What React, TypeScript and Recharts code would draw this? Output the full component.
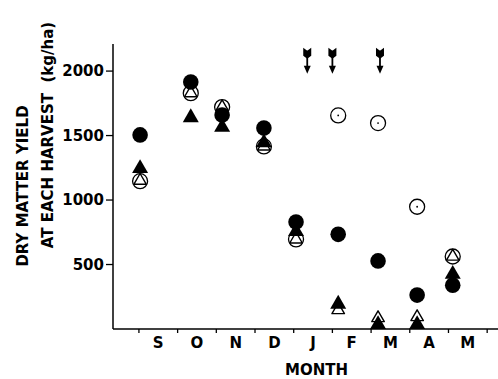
import { ScatterChart, Scatter, XAxis, YAxis, Label } from 'recharts'

// harvest positions along the month axis (0 = start of September)
const HARVEST_X = [0.03, 1.34, 2.15, 3.23, 4.06, 5.15, 6.18, 7.19, 8.11]
const FILLED_CIRCLE = [1505, 1915, 1660, 1558, 829, 734, 528, 263, 340]
const FILLED_TRIANGLE = [1245, 1640, 1565, 1445, 757, 193, 35, 35, 425]
const OPEN_CIRCLE = [1146, 1829, 1721, 1416, 695, 1656, 1597, 948, 562]
const OPEN_TRIANGLE = [1150, 1829, 1721, 1416, 695, 147, 85, 93, 562]

const MONTHS = ['S', 'O', 'N', 'D', 'J', 'F', 'M', 'A', 'M']
const MONTH_TICKS = [0, 0.5, 1, 1.5, 2, 2.5, 3, 3.5, 4, 4.5, 5, 5.5, 6, 6.5, 7, 7.5, 8, 8.5, 9]
const Y_TICKS = [500, 1000, 1500, 2000]

// arrows above the plot (marking events)
const ARROW_X = [4.35, 5.0, 6.23]
const ARROW_Y = 2080

const FONT = '"DejaVu Sans", sans-serif'

const toPoints = (ys: number[]) => ys.map((y, i) => ({ x: HARVEST_X[i], y }))
const arrows = ARROW_X.map(x => ({ x, y: ARROW_Y }))

const FilledCircle = ({ cx, cy }: any) => <circle cx={cx} cy={cy} r={7.8} fill="#000" />

const OpenCircle = ({ cx, cy }: any) => (
    <g>
        <circle cx={cx} cy={cy} r={7.5} fill="#fff" stroke="#000" strokeWidth={1.3} />
        <circle cx={cx} cy={cy} r={0.9} fill="#000" />
    </g>
)

const triPath = (cx: number, cy: number, s: number) => {
    const h = s * 0.866
    return `M${cx},${cy - (2 * h) / 3} L${cx + s / 2},${cy + h / 3} L${cx - s / 2},${cy + h / 3} Z`
}

const FilledTriangle = ({ cx, cy }: any) => <path d={triPath(cx, cy, 16)} fill="#000" />

const OpenTriangle = ({ cx, cy }: any) => (
    <path d={triPath(cx, cy, 12.5)} fill="#fff" stroke="#000" strokeWidth={1.4} strokeLinejoin="round" />
)

const Arrow = ({ cx, cy }: any) => (
    <g>
        <line x1={cx} y1={cy - 10} x2={cx} y2={cy + 8} stroke="#000" strokeWidth={1.8} />
        <path d={`M${cx - 4},${cy - 13} L${cx},${cy - 10} L${cx + 4},${cy - 13} L${cx + 4},${cy - 5} L${cx},${cy - 2} L${cx - 4},${cy - 5} Z`} fill="#000" />
        <path d={`M${cx - 3.5},${cy + 5} L${cx + 3.5},${cy + 5} L${cx},${cy + 13} Z`} fill="#000" />
    </g>
)

const MonthTick = ({ x, y, payload }: any) => {
    const v = payload.value
    if (Number.isInteger(v)) {
        return <line x1={x} y1={y} x2={x} y2={y + 4} stroke="#000" strokeWidth={1.3} />
    }
    return (
        <text x={x} y={y + 19} textAnchor="middle" fontFamily={FONT} fontSize={15} fontWeight="bold" fill="#000">
            {MONTHS[Math.floor(v)]}
        </text>
    )
}

const YTitle = () => (
    <g fontFamily={FONT} fontSize={15} fontWeight="bold" fill="#000">
        <text transform="translate(28,186) rotate(-90)" textAnchor="middle">DRY MATTER YIELD</text>
        <text transform="translate(53,135) rotate(-90)" textAnchor="middle" style={{ whiteSpace: 'pre' }}>
            AT EACH HARVEST  (kg/ha)
        </text>
    </g>
)

export default function App() {
    return (
        <div style={{ position: 'absolute', left: 0, top: 0, background: '#fff' }}>
            <ScatterChart width={498} height={379} margin={{ top: 44, right: 0, bottom: 0, left: 0 }}>
                <XAxis
                    type="number"
                    dataKey="x"
                    domain={[-0.67, 9.28]}
                    ticks={MONTH_TICKS}
                    tick={<MonthTick />}
                    tickLine={false}
                    tickSize={0}
                    tickMargin={0}
                    interval={0}
                    height={50}
                    axisLine={{ stroke: '#000', strokeWidth: 1.5 }}
                >
                    <Label value="MONTH" position="insideBottom" offset={4} fontFamily={FONT} fontSize={15} fontWeight="bold" fill="#000" dx={11} />
                </XAxis>
                <YAxis
                    type="number"
                    dataKey="y"
                    domain={[0, 2210]}
                    ticks={Y_TICKS}
                    width={113}
                    tickSize={7}
                    tickMargin={2}
                    interval={0}
                    tickLine={{ stroke: '#000', strokeWidth: 1.3 }}
                    axisLine={{ stroke: '#000', strokeWidth: 1.5 }}
                    tick={{ fontFamily: FONT, fontSize: 15, fontWeight: 'bold', fill: '#000' }}
                >
                    <Label content={<YTitle />} />
                </YAxis>
                <Scatter data={toPoints(OPEN_CIRCLE)} shape={<OpenCircle />} isAnimationActive={false} />
                <Scatter data={toPoints(OPEN_TRIANGLE)} shape={<OpenTriangle />} isAnimationActive={false} />
                <Scatter data={toPoints(FILLED_TRIANGLE)} shape={<FilledTriangle />} isAnimationActive={false} />
                <Scatter data={toPoints(FILLED_CIRCLE)} shape={<FilledCircle />} isAnimationActive={false} />
                <Scatter data={arrows} shape={<Arrow />} isAnimationActive={false} />
            </ScatterChart>
        </div>
    )
}
